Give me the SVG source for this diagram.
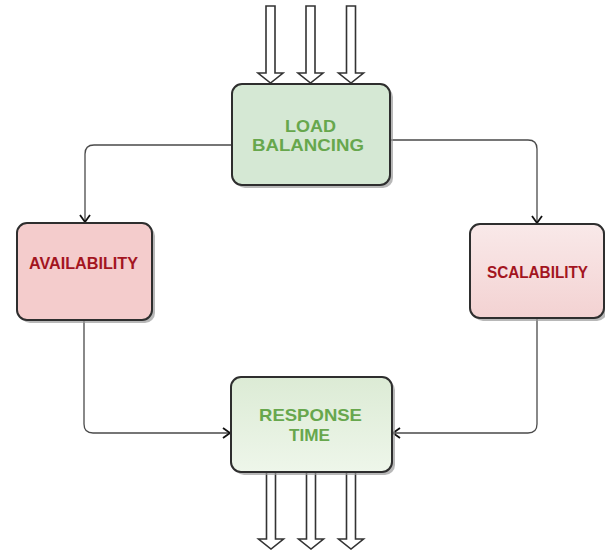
<svg xmlns="http://www.w3.org/2000/svg" width="605" height="550" viewBox="0 0 605 550">
  <defs>
    <style>
      .box { stroke: #2e2e2e; stroke-width: 2; }
      .shadow { fill: #9a9a9a; opacity: 0.7; }
      .lbl { font-family: "Liberation Sans", Arial, sans-serif; font-weight: bold; text-anchor: middle; }
      .green { fill: #67a74d; font-size: 17px; }
      .red { fill: #a3151f; font-size: 16px; }
      .conn { fill: none; stroke: #4a4a4a; stroke-width: 1.3; }
      .flow { fill: #ffffff; stroke: #333333; stroke-width: 1.6; stroke-linejoin: miter; }
    </style>
    <marker id="open" markerUnits="userSpaceOnUse" markerWidth="14" markerHeight="14" refX="8" refY="6" orient="auto">
      <path d="M1,1 L8,6 L1,11" fill="none" stroke="#111" stroke-width="1.8"/>
    </marker>
    <linearGradient id="gScal" x1="0" y1="0" x2="0" y2="1">
      <stop offset="0" stop-color="#f9e9e9"/>
      <stop offset="1" stop-color="#f3d2d2"/>
    </linearGradient>
    <linearGradient id="gResp" x1="0" y1="0" x2="0" y2="1">
      <stop offset="0" stop-color="#dcebd5"/>
      <stop offset="1" stop-color="#eef6ea"/>
    </linearGradient>
    <!-- hollow block arrow pointing down, origin at top centre -->
    <path id="blockArrow" d="M-4.5,0 H4.5 V67 H12.5 L0,77 L-12.5,67 H-4.5 Z"/>
  </defs>

  <rect width="605" height="550" fill="#ffffff"/>

  <!-- incoming traffic -->
  <g id="inputs" class="flow">
    <use href="#blockArrow" x="270.5" y="6"/>
    <use href="#blockArrow" x="310.5" y="6"/>
    <use href="#blockArrow" x="351" y="6"/>
  </g>

  <!-- outgoing traffic -->
  <g id="outputs" class="flow">
    <use href="#blockArrow" x="271" y="472"/>
    <use href="#blockArrow" x="311" y="472"/>
    <use href="#blockArrow" x="351" y="472"/>
  </g>

  <g id="connectors">
    <path class="conn" d="M232,145 H94 Q85,145 85,154 V222" marker-end="url(#open)"/>
    <path class="conn" d="M391,140 H528 Q537,140 537,149 V223" marker-end="url(#open)"/>
    <path class="conn" d="M84,320 V424 Q84,433 93,433 H230" marker-end="url(#open)"/>
    <path class="conn" d="M537,318 V424 Q537,433 528,433 H393" marker-end="url(#open)"/>
  </g>

  <g id="load-balancing">
    <rect class="shadow" x="235" y="87" width="158" height="101" rx="10"/>
    <rect class="box" x="232" y="84" width="158" height="101" rx="10" fill="#d5e8d4"/>
    <text class="lbl green" x="310.5" y="132" textLength="51" lengthAdjust="spacingAndGlyphs">LOAD</text>
    <text class="lbl green" x="308" y="151" textLength="112" lengthAdjust="spacingAndGlyphs">BALANCING</text>
  </g>

  <g id="availability">
    <rect class="shadow" x="20" y="226" width="135" height="97" rx="10"/>
    <rect class="box" x="17" y="223" width="135" height="97" rx="10" fill="#f4cccc"/>
    <text class="lbl red" x="83.5" y="269" textLength="109" lengthAdjust="spacingAndGlyphs">AVAILABILITY</text>
  </g>

  <g id="scalability">
    <rect class="shadow" x="473" y="227" width="134" height="94" rx="10"/>
    <rect class="box" x="470" y="224" width="134" height="94" rx="10" fill="url(#gScal)"/>
    <text class="lbl red" x="537.5" y="278" textLength="101" lengthAdjust="spacingAndGlyphs">SCALABILITY</text>
  </g>

  <g id="response-time">
    <rect class="shadow" x="234" y="380" width="161" height="95" rx="10"/>
    <rect class="box" x="231" y="377" width="161" height="95" rx="10" fill="url(#gResp)"/>
    <text class="lbl green" x="310.5" y="421" textLength="103" lengthAdjust="spacingAndGlyphs">RESPONSE</text>
    <text class="lbl green" x="309.5" y="441" textLength="41" lengthAdjust="spacingAndGlyphs">TIME</text>
  </g>
</svg>
